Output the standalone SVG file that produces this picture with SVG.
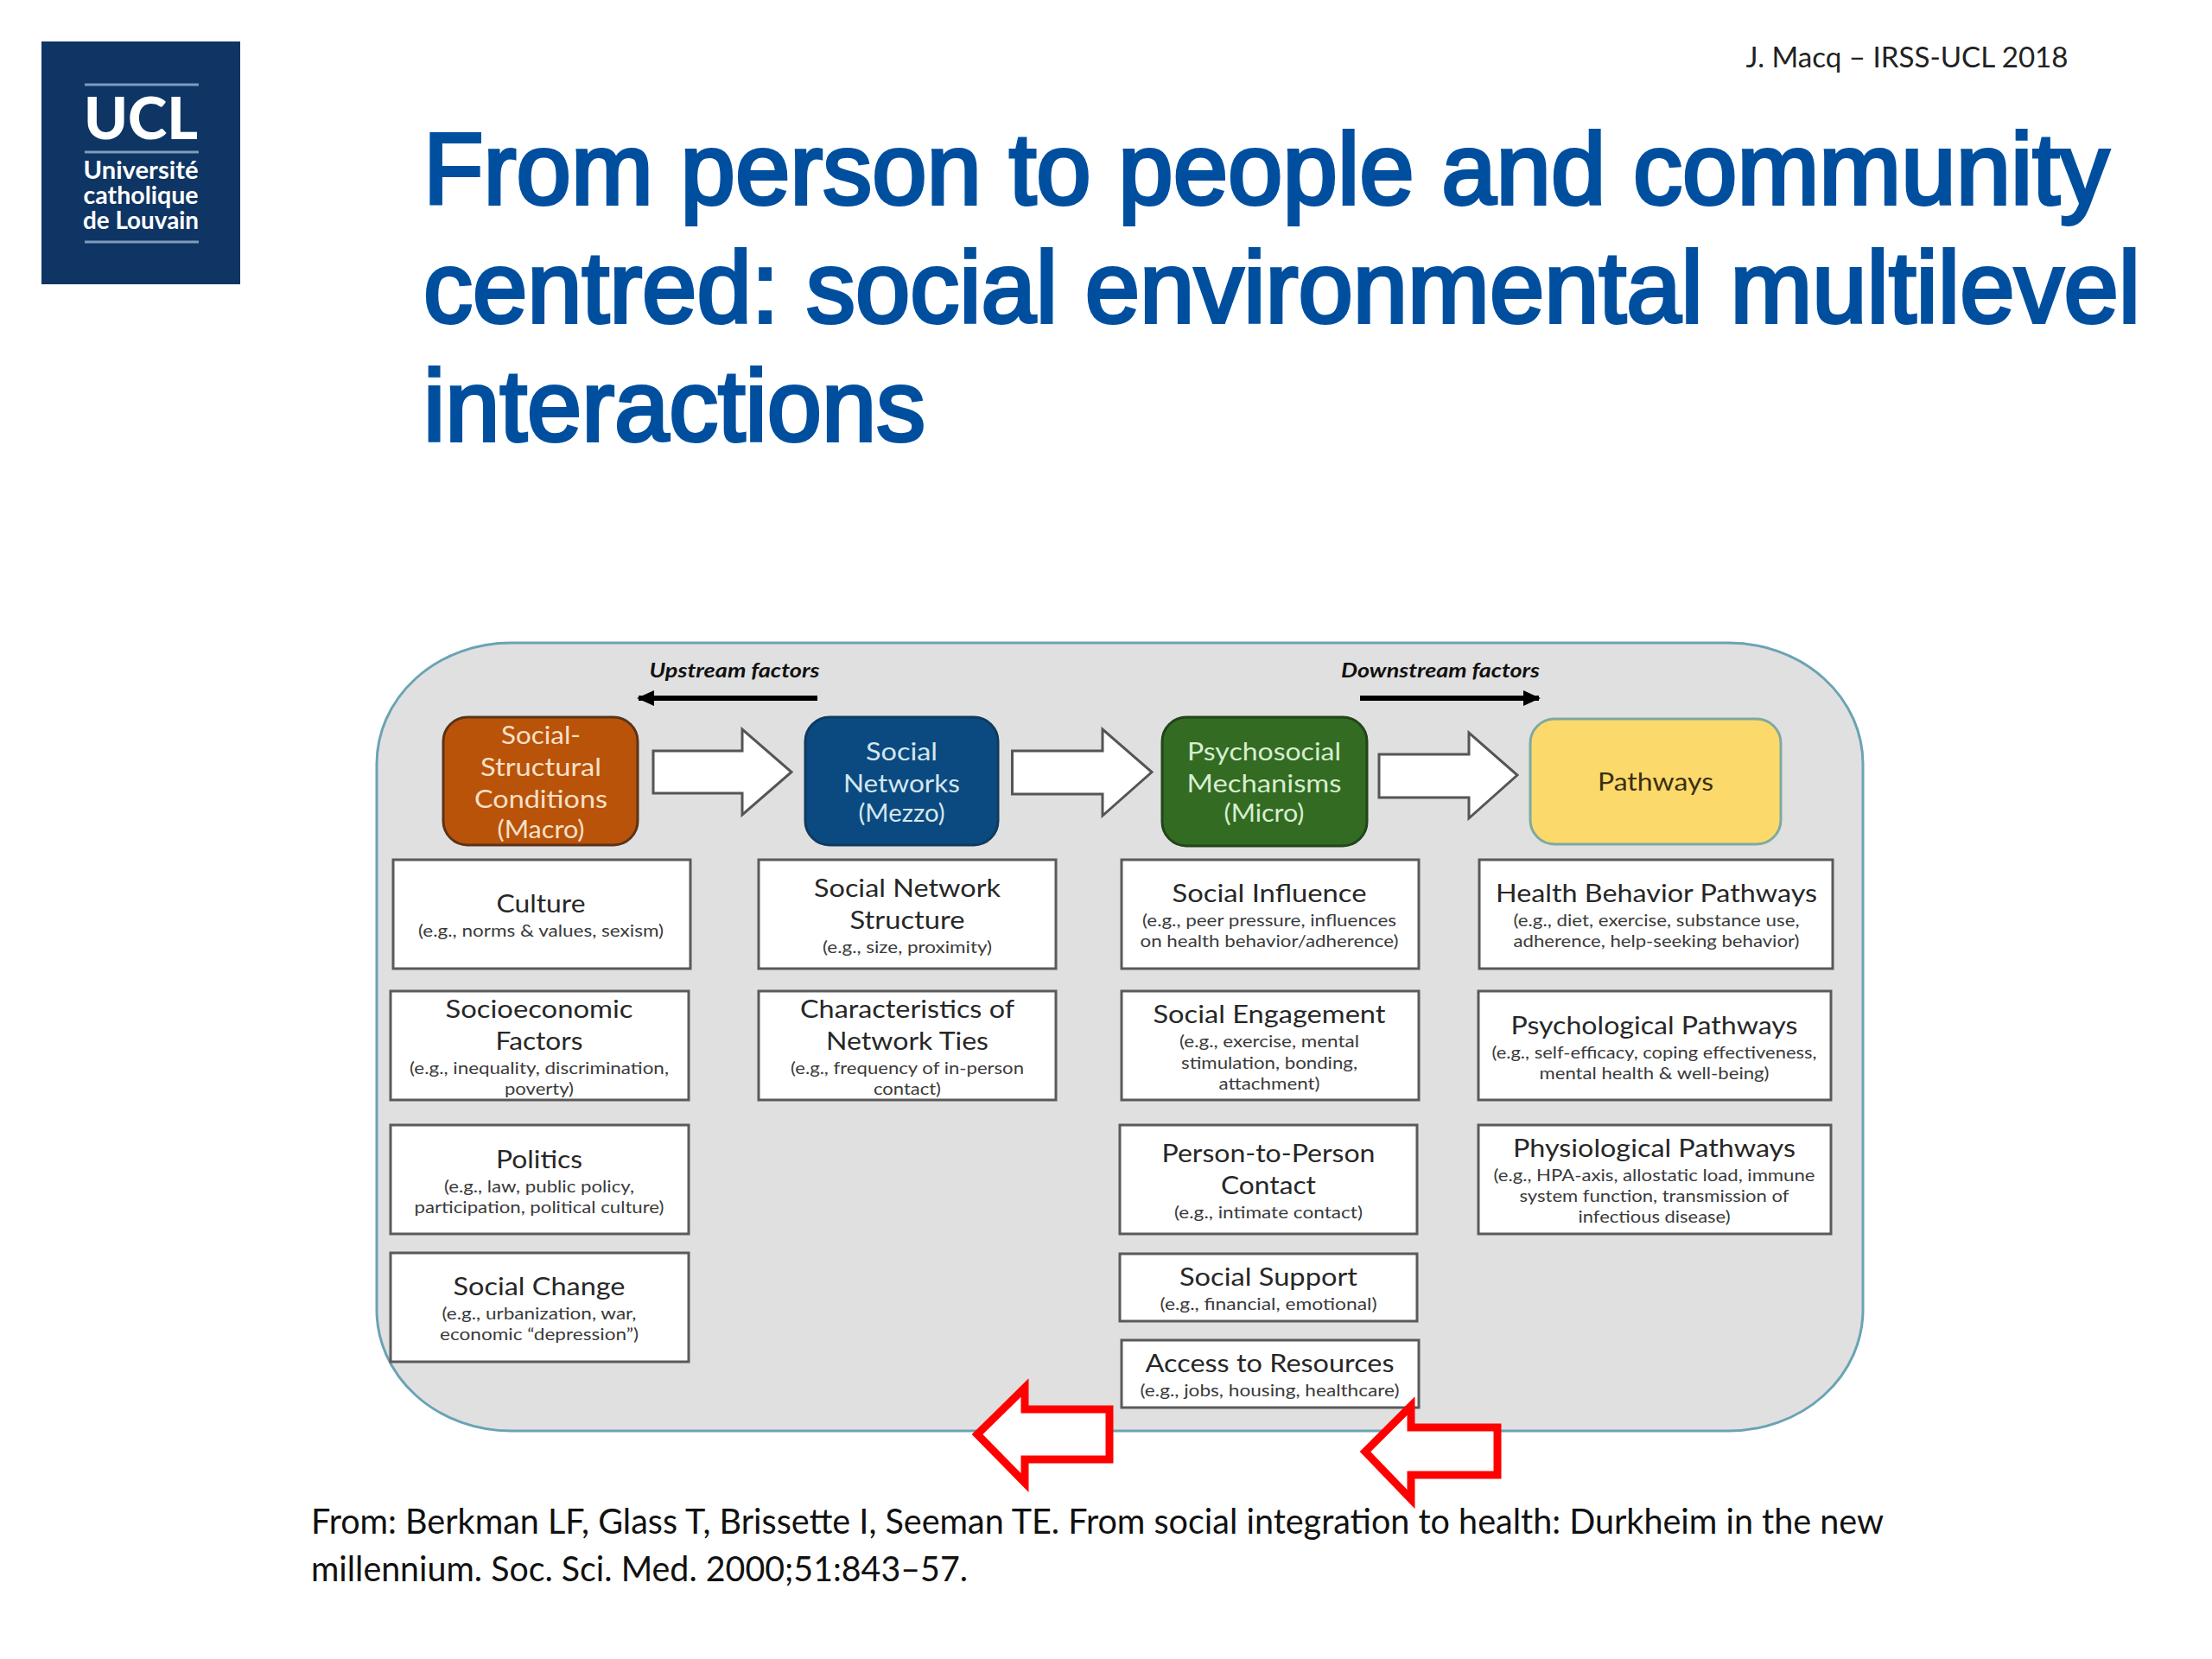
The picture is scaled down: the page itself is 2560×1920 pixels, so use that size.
<svg xmlns="http://www.w3.org/2000/svg" width="2560" height="1920" viewBox="0 0 2560 1920">
<style>
text{font-family:Lato,"Open Sans",sans-serif;text-anchor:middle}
.bx{fill:#fff;stroke:#5a5a5a;stroke-width:3}
.h{fill:#272727;font-size:29px}
.s{fill:#3a3a3a;font-size:19px}
.hd{font-size:29px}
.title{font-family:"Liberation Sans",Arial,sans-serif;font-size:117px;fill:#004f9f;stroke:#004f9f;stroke-width:4;text-anchor:start}
.cite{fill:#111;font-size:40px;text-anchor:start}
.flow{fill:#fff;stroke:#555;stroke-width:3}
.red{fill:#fff;stroke:#f00;stroke-width:9}
.ctrl{font-size:23px;font-weight:700;font-style:italic;fill:#111}
.logo{fill:#fff;font-size:28px;font-weight:700}
.lr{stroke:#7f9bbd;stroke-width:3}
</style>
<defs>
<marker id="ah" markerUnits="userSpaceOnUse" markerWidth="20" markerHeight="18" refX="18" refY="9" orient="auto"><path d="M0 0L20 9L0 18z" fill="#000"/></marker>
</defs>
<rect width="2560" height="1920" fill="#fff"/>
<g id="logo">
<rect x="48" y="48" width="230" height="281" fill="#0e3563"/>
<line class="lr" x1="98" x2="230" y1="98" y2="98"/><line class="lr" x1="98" x2="230" y1="176" y2="176"/><line class="lr" x1="98" x2="230" y1="280" y2="280"/>
<text class="logo" x="163" y="161" textLength="132" lengthAdjust="spacingAndGlyphs" style="font-size:66px;font-weight:900">UCL</text>
<text class="logo" x="163" y="207" textLength="133" lengthAdjust="spacingAndGlyphs">Université</text>
<text class="logo" x="163" y="236" textLength="133" lengthAdjust="spacingAndGlyphs">catholique</text>
<text class="logo" x="163" y="265" textLength="134" lengthAdjust="spacingAndGlyphs">de Louvain</text>
</g>
<text id="credit" x="2207" y="78" style="font-size:32px;fill:#222" textLength="373" lengthAdjust="spacingAndGlyphs">J. Macq – IRSS-UCL 2018</text>
<g id="title">
<text class="title" x="490" y="236" textLength="1951" lengthAdjust="spacingAndGlyphs">From person to people and community</text>
<text class="title" x="490" y="373" textLength="1987" lengthAdjust="spacingAndGlyphs">centred: social environmental multilevel</text>
<text class="title" x="490" y="510" textLength="581" lengthAdjust="spacingAndGlyphs">interactions</text>
</g>
<rect id="panel" x="436" y="744" width="1720" height="912" rx="155" ry="140" fill="#e0e0e0" stroke="#6aa3b4" stroke-width="3"/>
<g id="upstream-label"><text class="ctrl" x="850" y="784" textLength="197" lengthAdjust="spacingAndGlyphs">Upstream factors</text></g>
<g id="downstream-label"><text class="ctrl" x="1667" y="784" textLength="230" lengthAdjust="spacingAndGlyphs">Downstream factors</text></g>
<g id="connectors">
<line x1="946" y1="808" x2="739" y2="808" stroke="#000" stroke-width="6" marker-end="url(#ah)"/>
<line x1="1574" y1="808" x2="1781" y2="808" stroke="#000" stroke-width="6" marker-end="url(#ah)"/>
<path class="flow" d="M756 869H859V844L916 893.500L859 943V918H756z"/>
<path class="flow" d="M1171.500 869H1276V844L1333 893.500L1276 944V919H1171.500z"/>
<path class="flow" d="M1596 873H1700V848L1756 897L1700 947V923H1596z"/>
</g>
<g id="nodes" transform="translate(0,1)">
<g id="macro">
<rect x="513" y="829" width="225" height="148" rx="28" fill="#b9530a" stroke="#5b3318" stroke-width="3"/>
<g class="hd" fill="#f6e0c8">
<text x="626" y="860" textLength="92" lengthAdjust="spacingAndGlyphs">Social-</text>
<text x="626" y="897" textLength="140" lengthAdjust="spacingAndGlyphs">Structural</text>
<text x="626" y="934" textLength="154" lengthAdjust="spacingAndGlyphs">Conditions</text>
<text x="626" y="969" textLength="101" lengthAdjust="spacingAndGlyphs">(Macro)</text>
</g></g>
<g id="mezzo">
<rect x="932" y="829" width="223" height="148" rx="28" fill="#0b4a80" stroke="#0f3a5f" stroke-width="3"/>
<g class="hd" fill="#d5e6ee">
<text x="1043.500" y="879" textLength="83" lengthAdjust="spacingAndGlyphs">Social</text>
<text x="1043.500" y="916" textLength="135" lengthAdjust="spacingAndGlyphs">Networks</text>
<text x="1043.500" y="950" textLength="100" lengthAdjust="spacingAndGlyphs">(Mezzo)</text>
</g></g>
<g id="micro">
<rect x="1345" y="829" width="237" height="149" rx="28" fill="#336b22" stroke="#21451a" stroke-width="3"/>
<g class="hd" fill="#d7eed0">
<text x="1463" y="879" textLength="178" lengthAdjust="spacingAndGlyphs">Psychosocial</text>
<text x="1463" y="916" textLength="179" lengthAdjust="spacingAndGlyphs">Mechanisms</text>
<text x="1463" y="950" textLength="93" lengthAdjust="spacingAndGlyphs">(Micro)</text>
</g></g>
<g id="pathways">
<rect x="1771" y="831" width="290" height="145" rx="28" fill="#fbd96b" stroke="#7fa9a0" stroke-width="3"/>
<text class="hd" x="1916" y="914" fill="#3a2f10" textLength="134" lengthAdjust="spacingAndGlyphs">Pathways</text>
</g>
<g id="culture"><rect class="bx" x="455" y="994" width="344" height="126"/>
<text class="h" x="626" y="1055" textLength="103" lengthAdjust="spacingAndGlyphs">Culture</text>
<text class="s" x="626" y="1083" textLength="284" lengthAdjust="spacingAndGlyphs">(e.g., norms &amp; values, sexism)</text></g>
<g id="socioeconomic"><rect class="bx" x="452" y="1146" width="345" height="126"/>
<text class="h" x="624" y="1177" textLength="217" lengthAdjust="spacingAndGlyphs">Socioeconomic</text>
<text class="h" x="624" y="1214" textLength="101" lengthAdjust="spacingAndGlyphs">Factors</text>
<text class="s" x="624" y="1242" textLength="300" lengthAdjust="spacingAndGlyphs">(e.g., inequality, discrimination,</text>
<text class="s" x="624" y="1266" textLength="80" lengthAdjust="spacingAndGlyphs">poverty)</text></g>
<g id="politics"><rect class="bx" x="452" y="1301" width="345" height="126"/>
<text class="h" x="624" y="1351" textLength="100" lengthAdjust="spacingAndGlyphs">Politics</text>
<text class="s" x="624" y="1379" textLength="220" lengthAdjust="spacingAndGlyphs">(e.g., law, public policy,</text>
<text class="s" x="624" y="1403" textLength="289" lengthAdjust="spacingAndGlyphs">participation, political culture)</text></g>
<g id="social-change"><rect class="bx" x="452" y="1449" width="345" height="126"/>
<text class="h" x="624" y="1498" textLength="199" lengthAdjust="spacingAndGlyphs">Social Change</text>
<text class="s" x="624" y="1526" textLength="225" lengthAdjust="spacingAndGlyphs">(e.g., urbanization, war,</text>
<text class="s" x="624" y="1550" textLength="230" lengthAdjust="spacingAndGlyphs">economic “depression”)</text></g>
<g id="network-structure"><rect class="bx" x="878" y="994" width="344" height="126"/>
<text class="h" x="1050" y="1037" textLength="216" lengthAdjust="spacingAndGlyphs">Social Network</text>
<text class="h" x="1050" y="1074" textLength="133" lengthAdjust="spacingAndGlyphs">Structure</text>
<text class="s" x="1050" y="1102" textLength="196" lengthAdjust="spacingAndGlyphs">(e.g., size, proximity)</text></g>
<g id="network-ties"><rect class="bx" x="878" y="1146" width="344" height="126"/>
<text class="h" x="1050" y="1177" textLength="248" lengthAdjust="spacingAndGlyphs">Characteristics of</text>
<text class="h" x="1050" y="1214" textLength="188" lengthAdjust="spacingAndGlyphs">Network Ties</text>
<text class="s" x="1050" y="1242" textLength="270" lengthAdjust="spacingAndGlyphs">(e.g., frequency of in-person</text>
<text class="s" x="1050" y="1266" textLength="78" lengthAdjust="spacingAndGlyphs">contact)</text></g>
<g id="social-influence"><rect class="bx" x="1298" y="994" width="344" height="126"/>
<text class="h" x="1469" y="1043" textLength="225" lengthAdjust="spacingAndGlyphs">Social Influence</text>
<text class="s" x="1469" y="1071" textLength="294" lengthAdjust="spacingAndGlyphs">(e.g., peer pressure, influences</text>
<text class="s" x="1469" y="1095" textLength="299" lengthAdjust="spacingAndGlyphs">on health behavior/adherence)</text></g>
<g id="social-engagement"><rect class="bx" x="1298" y="1146" width="344" height="126"/>
<text class="h" x="1469" y="1183" textLength="269" lengthAdjust="spacingAndGlyphs">Social Engagement</text>
<text class="s" x="1469" y="1211" textLength="208" lengthAdjust="spacingAndGlyphs">(e.g., exercise, mental</text>
<text class="s" x="1469" y="1236" textLength="204" lengthAdjust="spacingAndGlyphs">stimulation, bonding,</text>
<text class="s" x="1469" y="1260" textLength="117" lengthAdjust="spacingAndGlyphs">attachment)</text></g>
<g id="person-contact"><rect class="bx" x="1296" y="1301" width="344" height="126"/>
<text class="h" x="1468" y="1344" textLength="247" lengthAdjust="spacingAndGlyphs">Person-to-Person</text>
<text class="h" x="1468" y="1381" textLength="110" lengthAdjust="spacingAndGlyphs">Contact</text>
<text class="s" x="1468" y="1409" textLength="218" lengthAdjust="spacingAndGlyphs">(e.g., intimate contact)</text></g>
<g id="social-support"><rect class="bx" x="1296" y="1450" width="344" height="78"/>
<text class="h" x="1468" y="1487" textLength="206" lengthAdjust="spacingAndGlyphs">Social Support</text>
<text class="s" x="1468" y="1515" textLength="251" lengthAdjust="spacingAndGlyphs">(e.g., financial, emotional)</text></g>
<g id="access-resources"><rect class="bx" x="1298" y="1550" width="344" height="78"/>
<text class="h" x="1469.500" y="1587" textLength="288" lengthAdjust="spacingAndGlyphs">Access to Resources</text>
<text class="s" x="1469.500" y="1615" textLength="300" lengthAdjust="spacingAndGlyphs">(e.g., jobs, housing, healthcare)</text></g>
<g id="health-behavior"><rect class="bx" x="1712" y="994" width="409" height="126"/>
<text class="h" x="1917" y="1043" textLength="372" lengthAdjust="spacingAndGlyphs">Health Behavior Pathways</text>
<text class="s" x="1917" y="1071" textLength="331" lengthAdjust="spacingAndGlyphs">(e.g., diet, exercise, substance use,</text>
<text class="s" x="1917" y="1095" textLength="331" lengthAdjust="spacingAndGlyphs">adherence, help-seeking behavior)</text></g>
<g id="psychological"><rect class="bx" x="1711" y="1146" width="408" height="126"/>
<text class="h" x="1914.500" y="1196" textLength="332" lengthAdjust="spacingAndGlyphs">Psychological Pathways</text>
<text class="s" x="1914.500" y="1224" textLength="376" lengthAdjust="spacingAndGlyphs">(e.g., self-efficacy, coping effectiveness,</text>
<text class="s" x="1914.500" y="1248" textLength="266" lengthAdjust="spacingAndGlyphs">mental health &amp; well-being)</text></g>
<g id="physiological"><rect class="bx" x="1711" y="1301" width="408" height="126"/>
<text class="h" x="1914.500" y="1338" textLength="327" lengthAdjust="spacingAndGlyphs">Physiological Pathways</text>
<text class="s" x="1914.500" y="1366" textLength="372" lengthAdjust="spacingAndGlyphs">(e.g., HPA-axis, allostatic load, immune</text>
<text class="s" x="1914.500" y="1390" textLength="312" lengthAdjust="spacingAndGlyphs">system function, transmission of</text>
<text class="s" x="1914.500" y="1414" textLength="176" lengthAdjust="spacingAndGlyphs">infectious disease)</text></g>
</g>
<g id="red-arrows">
<path class="red" d="M1284 1631H1186V1606L1131 1660L1186 1716V1689H1284z"/>
<path class="red" d="M1733 1652H1633V1627L1580 1680L1633 1735V1707H1733z"/>
</g>
<g id="citation">
<text class="cite" x="360" y="1775" textLength="1820" lengthAdjust="spacingAndGlyphs">From: Berkman LF, Glass T, Brissette I, Seeman TE. From social integration to health: Durkheim in the new</text>
<text class="cite" x="360" y="1830" textLength="760" lengthAdjust="spacingAndGlyphs">millennium. Soc. Sci. Med. 2000;51:843–57.</text>
</g>
</svg>
